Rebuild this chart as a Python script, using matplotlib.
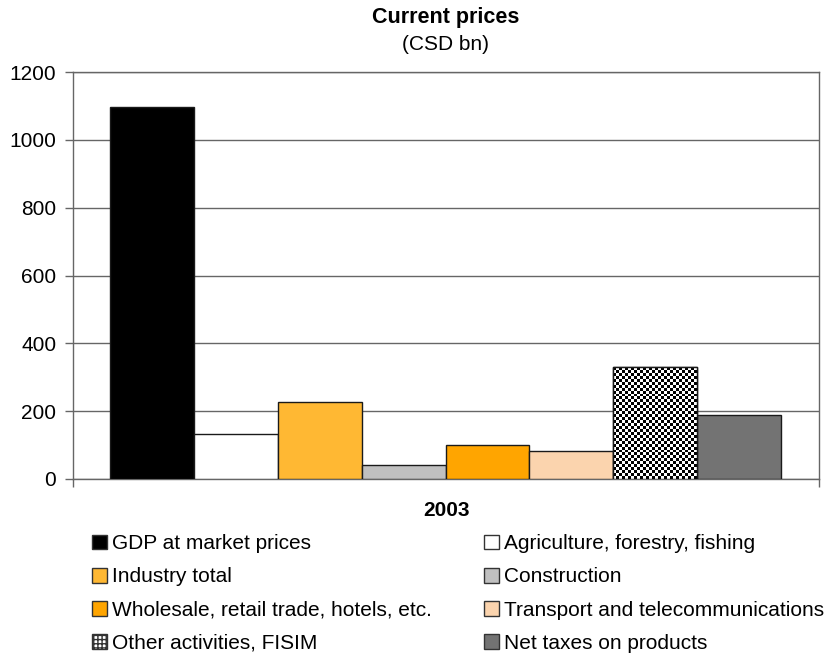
import numpy as np
import matplotlib
matplotlib.use("Agg")
import matplotlib.pyplot as plt
from matplotlib.patches import Patch

plt.rcParams['font.family'] = ['Liberation Sans', 'DejaVu Sans']

categories = ["GDP at market prices", "Agriculture, forestry, fishing", "Industry total",
              "Construction", "Wholesale, retail trade, hotels, etc.",
              "Transport and telecommunications", "Other activities, FISIM",
              "Net taxes on products"]
values = [1097, 133, 227, 41, 100, 83, 330, 189]
colors = ["#000000", "#FFFFFF", "#FFB833", "#C0C0C0", "#FFA500", "#FBD4AE", "#FFFFFF", "#737373"]
year_label = "2003"
yticks = [0, 200, 400, 600, 800, 1000, 1200]

fig = plt.figure(figsize=(8.39, 6.57), dpi=100)
W, H = 839, 657
ax = fig.add_axes([73 / W, 1 - 479 / H, (819 - 73) / W, (479 - 72) / H])

x = np.arange(len(categories))
bars = ax.bar(x, values, width=1.0, color=colors, edgecolor="#1a1a1a", linewidth=1.0, zorder=3)

# checkerboard texture on the "Other activities" bar
b = bars[6]
n_c, n_r = 28, 38
cb = (np.indices((n_r, n_c)).sum(axis=0) % 2).astype(float)
im = ax.imshow(cb, cmap="gray", extent=(b.get_x(), b.get_x() + b.get_width(), 0, b.get_height()),
               aspect="auto", interpolation="nearest", zorder=3.5)
im.set_clip_path(b)
ax.bar(x[6], values[6], width=1.0, fill=False, edgecolor="#1a1a1a", linewidth=1.0, zorder=4)

ax.set_xlim(-0.94, 7.95)
ax.set_ylim(0, 1200)
ax.set_yticks(yticks)
ax.set_yticklabels([str(t) for t in yticks], fontsize=15)
ax.yaxis.grid(True, color="#666666", linewidth=1.0, zorder=0)
ax.set_axisbelow(True)
ax.tick_params(axis='y', length=6, width=1, color="#666666", pad=6)
ax.set_xticks([-0.94, 7.95])
ax.set_xticklabels(["", ""])
ax.tick_params(axis='x', length=6, width=1, color="#666666")
for s in ax.spines.values():
    s.set_color("#666666")
    s.set_linewidth(1.0)

ax.set_xlabel(year_label, fontsize=15, fontweight="bold", labelpad=6)

fig.text(0.5 * (73 + 819) / W, 1 - 18 / H, "Current prices", ha="center", va="center",
         fontsize=15.5, fontweight="bold")
fig.text(0.5 * (73 + 819) / W, 1 - 45 / H, "(CSD bn)", ha="center", va="center", fontsize=15)

handles = []
for i, (c, lab) in enumerate(zip(colors, categories)):
    if i == 6:
        handles.append(Patch(facecolor="white", edgecolor="#333333", hatch="++++", label=lab))
    else:
        handles.append(Patch(facecolor=c, edgecolor="#333333", label=lab))
order = [0, 2, 4, 6, 1, 3, 5, 7]
leg = fig.legend([handles[i] for i in order], [categories[i] for i in order],
                 loc="upper left", bbox_to_anchor=(84 / W, 1 - 526 / H), ncol=2,
                 frameon=False, fontsize=15, handlelength=0.7, handleheight=0.7,
                 handletextpad=0.25, columnspacing=2.5, labelspacing=0.68, borderaxespad=0)

fig.savefig("out.png", dpi=100)
